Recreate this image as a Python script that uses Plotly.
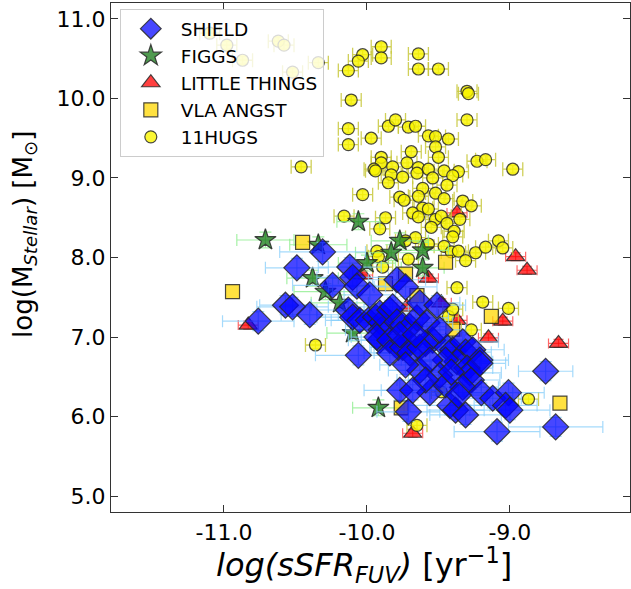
import plotly.graph_objects as go

# ---------------- data ----------------
shield_ssfr = [
    -10.31, -10.49, -10.57, -10.52, -10.76, -10.40, -10.24, -10.12, -10.10, -10.07,
    -9.98, -10.13, -10.10, -10.05, -9.99, -9.94, -9.90, -9.90, -9.91, -9.93,
    -9.84, -9.91, -9.84, -9.82, -9.79, -9.73, -9.79, -9.75, -9.70, -9.65,
    -9.63, -9.51, -9.58,
    -9.54, -9.70, -9.78, -9.84, -9.75, -9.70, -10.06, -9.59, -9.63, -9.44,
    -9.40, -9.33, -9.31, -9.26, -9.21, -9.37, -9.30, -9.28, -9.27, -9.33,
    -9.21, -9.63, -9.56, -9.77, -9.71, -9.42, -9.38, -9.31, -9.20, -9.12,
    -9.01, -9.03, -9.00, -9.09, -8.75, -8.68,
    -9.77, -9.66, -9.49, -9.45, -9.56, -9.49, -9.73, -9.45, -9.59, -9.68, -9.41, -9.36]
shield_mass = [
    8.07, 7.87, 7.40, 7.38, 7.20, 7.28, 7.65, 7.88, 7.75, 7.64,
    7.53, 7.34, 7.25, 7.21, 7.21, 7.25, 7.18, 7.09, 6.96, 7.00,
    6.96, 7.30, 7.34, 7.38, 7.72, 7.63, 7.19, 7.15, 7.13, 7.24,
    7.43, 7.40, 7.18,
    6.96, 6.92, 6.87, 6.80, 6.87, 6.80, 6.77, 6.92, 6.87, 6.87,
    6.84, 6.94, 6.81, 6.84, 6.71, 6.69, 6.61, 6.55, 6.46, 6.37,
    6.67, 6.58, 6.30, 6.33, 6.06, 6.14, 6.08, 6.02, 6.30, 6.23,
    6.30, 6.14, 6.08, 5.81, 6.57, 5.87,
    7.03, 7.03, 7.09, 6.71, 6.71, 6.52, 6.65, 6.40, 6.46, 6.33, 6.56, 6.27]
shield_ssfr_err = [
    0.30, 0.22, 0.18, 0.25, 0.25, 0.20, 0.28, 0.22, 0.25, 0.20,
    0.18, 0.22, 0.25, 0.20, 0.30, 0.18, 0.20, 0.25, 0.22, 0.18,
    0.20, 0.22, 0.18, 0.25, 0.20, 0.22, 0.18, 0.20, 0.25, 0.22,
    0.28, 0.20, 0.18,
    0.22, 0.25, 0.20, 0.18, 0.22, 0.25, 0.30, 0.20, 0.18, 0.22,
    0.20, 0.25, 0.18, 0.22, 0.20, 0.25, 0.18, 0.22, 0.20, 0.25,
    0.18, 0.22, 0.20, 0.25, 0.22, 0.28, 0.20, 0.25, 0.22, 0.20,
    0.25, 0.22, 0.28, 0.30, 0.19, 0.33,
    0.20, 0.22, 0.18, 0.25, 0.20, 0.22, 0.18, 0.25, 0.20, 0.22, 0.18, 0.20]

figgs_ssfr = [-10.71, -10.06, -9.77, -9.83, -9.61, -10.00, -9.61, -10.38, -10.34,
              -10.29, -10.19, -10.10, -9.92]
figgs_mass = [8.22, 8.45, 8.21, 8.06, 8.09, 7.93, 7.87, 7.74, 8.16,
              7.57, 7.43, 7.05, 6.11]
figgs_ssfr_err = [0.20, 0.15, 0.20, 0.25, 0.18, 0.20, 0.15, 0.18, 0.20,
                  0.22, 0.20, 0.18, 0.18]

lt_ssfr = [-9.37, -8.96, -8.88, -9.57, -10.03, -9.72, -9.48, -9.37, -9.05,
           -9.15, -8.66, -9.68, -10.83]
lt_mass = [8.56, 8.01, 7.84, 7.74, 7.78, 7.38, 7.43, 7.21, 7.20,
           6.99, 6.92, 5.79, 7.15]

vla_ssfr = [-10.45, -10.94, -9.45, -9.73, -9.87, -9.65, -9.13, -9.40, -8.65, -9.76]
vla_mass = [8.19, 7.57, 7.94, 7.79, 7.67, 7.52, 7.26, 7.10, 6.17, 6.11]

hugs_ssfr = [
    -11.10, -10.98, -10.87, -10.62, -10.58, -10.52, -10.34, -9.90, -9.90, -10.03,
    -10.06, -10.13, -9.64, -9.64, -9.50, -9.30, -9.29, -10.11, -9.30, -10.13,
    -10.13, -9.97, -9.85, -9.80, -9.71, -9.66, -9.57, -9.52, -9.43, -9.52,
    -9.50, -9.69, -9.90, -9.90, -9.95, -9.82, -9.72, -9.64, -9.57, -9.46,
    -9.36, -9.23, -9.17, -8.98, -9.83, -9.75, -9.65, -9.54, -9.40, -9.85,
    -9.44, -9.61, -9.52, -9.64, -9.77, -9.74, -9.46, -9.33, -9.27, -10.03,
    -10.46, -9.94, -9.61, -9.57, -9.68, -9.64, -9.52, -9.48, -9.55, -9.44,
    -9.35, -9.39, -9.40, -10.16, -9.87, -9.91, -9.66, -9.73, -9.57, -9.46,
    -9.41, -9.36, -9.31, -9.24, -9.17, -9.08, -9.05, -9.93, -9.92, -9.71,
    -9.89, -9.37, -9.19, -9.01, -9.43, -9.40, -9.27, -10.36, -8.87, -9.65,
    -9.48]
hugs_mass = [
    10.82, 10.67, 10.48, 10.72, 10.67, 10.33, 10.45, 10.65, 10.51, 10.55,
    10.47, 10.35, 10.56, 10.37, 10.37, 10.09, 10.06, 9.98, 9.73, 9.62,
    9.42, 9.50, 9.65, 9.73, 9.64, 9.65, 9.53, 9.52, 9.49, 9.39,
    9.26, 9.33, 9.26, 9.19, 9.11, 9.14, 9.19, 9.13, 9.11, 9.09,
    9.08, 9.21, 9.23, 9.11, 9.04, 9.01, 9.06, 9.00, 9.03, 8.94,
    8.91, 8.87, 8.81, 8.77, 8.76, 8.72, 8.74, 8.71, 8.65, 8.79,
    9.14, 9.09, 8.62, 8.61, 8.56, 8.51, 8.48, 8.52, 8.38, 8.43,
    8.48, 8.33, 8.26, 8.52, 8.50, 8.36, 8.25, 8.21, 8.17, 8.14,
    8.07, 8.08, 7.96, 8.06, 8.13, 8.21, 8.12, 8.08, 8.01, 7.98,
    7.88, 7.62, 7.44, 7.36, 7.26, 7.35, 7.09, 6.90, 6.22, 5.89,
    6.31]

x_tickvals = [-11.0, -10.0, -9.0]
x_ticktext = ["-11.0", "-10.0", "-9.0"]
y_tickvals = [5.0, 6.0, 7.0, 8.0, 9.0, 10.0, 11.0]
y_ticktext = ["5.0", "6.0", "7.0", "8.0", "9.0", "10.0", "11.0"]

x_title = "<i>log(sSFR<sub>FUV</sub>)</i> [yr<sup>\u22121</sup>]"
y_title = "log(M<sub><i>Stellar</i></sub>) [M<sub>\u2299</sub>]"

EDGE = "rgba(40,40,40,0.85)"

fig = go.Figure()

fig.add_trace(go.Scatter(
    x=lt_ssfr, y=lt_mass, mode="markers", name="LITTLE THINGS", legendrank=3,
    marker=dict(symbol="triangle-up", size=16, color="rgba(255,0,0,0.75)",
                line=dict(color=EDGE, width=1.2)),
    error_x=dict(type="constant", value=0.07, color="rgba(255,40,40,0.7)", thickness=1.2, width=5),
    error_y=dict(type="constant", value=0.05, color="rgba(255,40,40,0.7)", thickness=1.2, width=5),
))
fig.add_trace(go.Scatter(
    x=hugs_ssfr, y=hugs_mass, mode="markers", name="11HUGS", legendrank=5,
    marker=dict(symbol="circle", size=12, color="rgba(250,245,0,0.8)",
                line=dict(color=EDGE, width=1.2)),
    error_x=dict(type="constant", value=0.07, color="rgba(200,200,60,0.85)", thickness=1.3, width=7),
    error_y=dict(type="constant", value=0.05, color="rgba(200,200,60,0.85)", thickness=1.3, width=5),
))
fig.add_trace(go.Scatter(
    x=figgs_ssfr, y=figgs_mass, mode="markers", name="FIGGS", legendrank=2,
    marker=dict(symbol="star", size=16, color="rgba(20,120,20,0.75)",
                line=dict(color=EDGE, width=1.2)),
    error_x=dict(type="data", array=figgs_ssfr_err, color="rgba(144,238,144,0.8)", thickness=1.2, width=6),
    error_y=dict(type="constant", value=0.1, color="rgba(144,238,144,0.8)", thickness=1.2, width=6),
))
fig.add_trace(go.Scatter(
    x=vla_ssfr, y=vla_mass, mode="markers", name="VLA ANGST", legendrank=4,
    marker=dict(symbol="square", size=14, color="rgba(255,215,0,0.75)",
                line=dict(color=EDGE, width=1.2)),
))
fig.add_trace(go.Scatter(
    x=shield_ssfr, y=shield_mass, mode="markers", name="SHIELD", legendrank=1,
    marker=dict(symbol="diamond", size=20, color="rgba(0,0,255,0.72)",
                line=dict(color=EDGE, width=1.2)),
    error_x=dict(type="data", array=shield_ssfr_err, color="rgba(135,206,250,0.75)", thickness=1.2, width=6),
    error_y=dict(type="constant", value=0.12, color="rgba(135,206,250,0.75)", thickness=1.2, width=6),
))

axis_common = dict(showline=True, linecolor="#333333", linewidth=1.2, mirror="ticks",
                   ticks="inside", ticklen=7, tickwidth=1.2, tickcolor="#333333",
                   showgrid=False, zeroline=False, tickfont=dict(size=22, color="black"))

fig.update_layout(
    width=631, height=589,
    margin=dict(l=111, r=1, t=3, b=77),
    plot_bgcolor="white", paper_bgcolor="white",
    font=dict(family="DejaVu Sans", color="black"),
    xaxis=dict(range=[-11.79, -8.16], tickvals=x_tickvals, ticktext=x_ticktext,
               **axis_common),
    yaxis=dict(range=[4.8, 11.2], tickvals=y_tickvals, ticktext=y_ticktext,
               **axis_common),
    legend=dict(x=0.017, y=0.988, xanchor="left", yanchor="top",
                bgcolor="rgba(255,255,255,0.8)", bordercolor="#cccccc", borderwidth=1,
                font=dict(size=18.5), itemwidth=50, traceorder="normal"),
    annotations=[
        dict(text=x_title, xref="paper", yref="paper", x=0.4875, y=-0.104,
             xanchor="center", yanchor="middle", showarrow=False, font=dict(size=32)),
        dict(text=y_title, xref="paper", yref="paper", x=-0.168, y=0.546,
             xanchor="center", yanchor="middle", textangle=-90, showarrow=False,
             font=dict(size=26)),
    ],
)

fig.write_html("out.html")
